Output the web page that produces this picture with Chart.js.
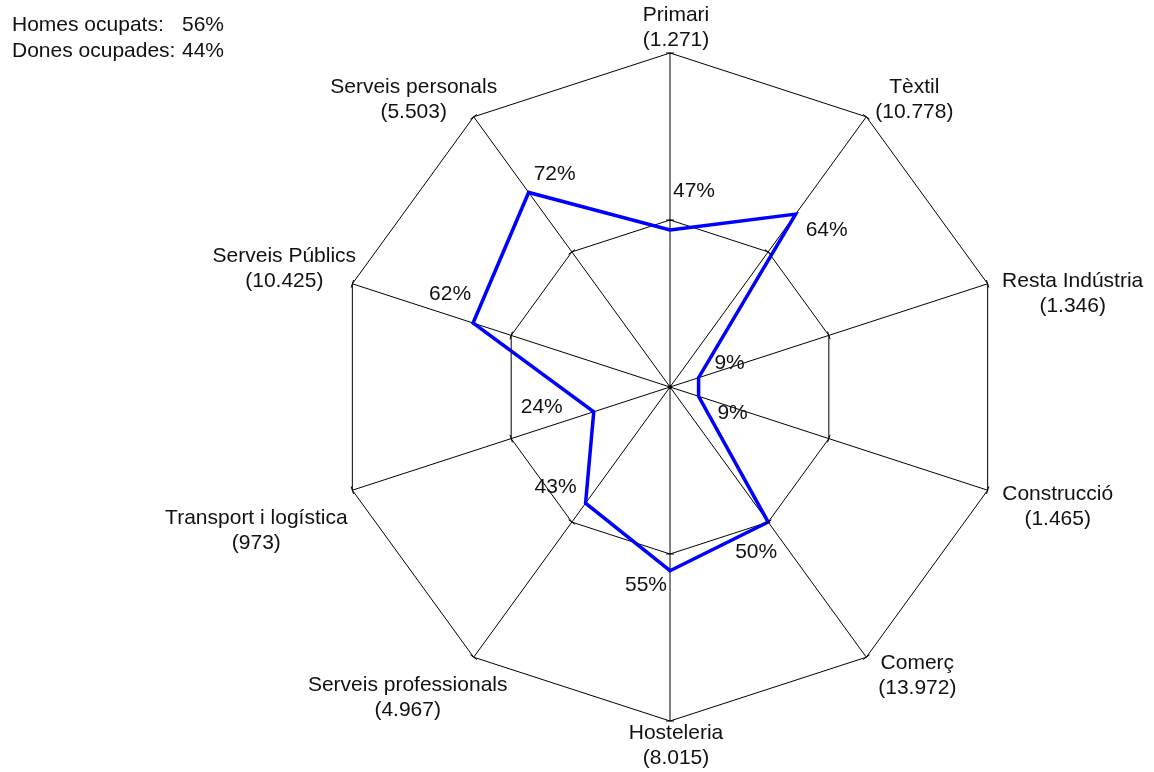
<!DOCTYPE html>
<html>
<head>
<meta charset="utf-8">
<script src="https://cdn.jsdelivr.net/npm/chart.js@4.4.0/dist/chart.umd.min.js"></script>
<style>
  html, body { margin: 0; padding: 0; background: #fff; }
  #wrap { width: 1154px; height: 772px; position: relative; }
</style>
</head>
<body>
<div id="wrap"><canvas id="radar"></canvas></div>
<script>
// Sectors, number of employed people, share of women (%)
const sectors = ['Primari', 'Tèxtil', 'Resta Indústria', 'Construcció', 'Comerç', 'Hosteleria',
    'Serveis professionals', 'Transport i logística', 'Serveis Públics', 'Serveis personals'];
const employed = [1271, 10778, 1346, 1465, 13972, 8015, 4967, 973, 10425, 5503];
const womenShare = [47, 64, 9, 9, 50, 55, 43, 24, 62, 72];
const ringTicks = [0, 50, 100];
const totals = [['Homes ocupats:', '56%'], ['Dones ocupades:', '44%']];

// label placement (block centre / first line relative to the outer vertex)
const nameOffsets = [[6,-38],[48,-30],[85,-3],[70,4],[51,6],[6,12],[-66,28],[-96,28],[-68,-28],[-60,-30]];
// percentage label placement relative to the data point
const valueOffsets = [[24,-39],[31,16],[31,-15],[34,17],[-12,30],[-24,15],[-30,-16],[-52,-5],[-23,-29],[26,-18]];

const FONT = '21px "Liberation Sans", Arial, sans-serif';
const TXT = '#111';

function fmtThousands(n){
    return String(n).replace(/\B(?=(\d{3})+(?!\d))/g, '.');
}

const radarText = {
    id: 'radarText',
    afterDraw(chart){
        const ctx = chart.ctx;
        const r = chart.scales.r;
        const meta = chart.getDatasetMeta(0);
        ctx.save();

        // small ticks across each axis on the rings
        ctx.strokeStyle = '#000';
        ctx.lineWidth = 1;
        sectors.forEach((s, i) => {
            const a = r.getIndexAngle(i) - Math.PI/2;
            const px = -Math.sin(a), py = Math.cos(a);
            ringTicks.slice(1).forEach(v => {
                const p = r.getPointPositionForValue(i, v);
                ctx.beginPath();
                ctx.moveTo(p.x - px*4, p.y - py*4);
                ctx.lineTo(p.x + px*4, p.y + py*4);
                ctx.stroke();
            });
        });
        ctx.fillStyle = '#000';
        ctx.beginPath();
        ctx.arc(r.xCenter, r.yCenter, 2, 0, Math.PI*2);
        ctx.fill();

        ctx.font = FONT;
        ctx.fillStyle = TXT;
        ctx.textAlign = 'center';
        ctx.textBaseline = 'middle';

        // sector names with employed count
        sectors.forEach((s, i) => {
            const v = r.getPointPositionForValue(i, r.max);
            const [dx, dy] = nameOffsets[i];
            ctx.fillText(s, v.x + dx, v.y + dy);
            ctx.fillText('(' + fmtThousands(employed[i]) + ')', v.x + dx, v.y + dy + 25);
        });

        // percentages next to the points
        meta.data.forEach((pt, i) => {
            const [dx, dy] = valueOffsets[i];
            ctx.fillText(womenShare[i] + '%', pt.x + dx, pt.y + dy);
        });

        // totals in the corner
        ctx.textAlign = 'left';
        totals.forEach((t, k) => {
            ctx.fillText(t[0], 12, 25 + k*26);
            ctx.fillText(t[1], 182, 25 + k*26);
        });
        ctx.restore();
    }
};

new Chart(document.getElementById('radar'), {
    type: 'radar',
    data: {
        labels: sectors,
        datasets: [{
            data: womenShare,
            borderColor: '#0000ff',
            borderWidth: 3.5,
            fill: false,
            pointRadius: 0,
            pointHoverRadius: 0,
            tension: 0
        }]
    },
    options: {
        responsive: true,
        maintainAspectRatio: false,
        animation: false,
        layout: { padding: { left: 336, right: 150, top: 53, bottom: 51 } },
        plugins: { legend: { display: false }, tooltip: { enabled: false } },
        scales: {
            r: {
                min: ringTicks[0],
                max: ringTicks[ringTicks.length-1],
                afterBuildTicks: (sc) => { sc.ticks = ringTicks.map(v => ({ value: v })); },
                ticks: { display: false },
                pointLabels: { display: false },
                grid: { color: '#000', lineWidth: 1 },
                angleLines: { color: '#000', lineWidth: 1 }
            }
        }
    },
    plugins: [radarText]
});
</script>
</body>
</html>
